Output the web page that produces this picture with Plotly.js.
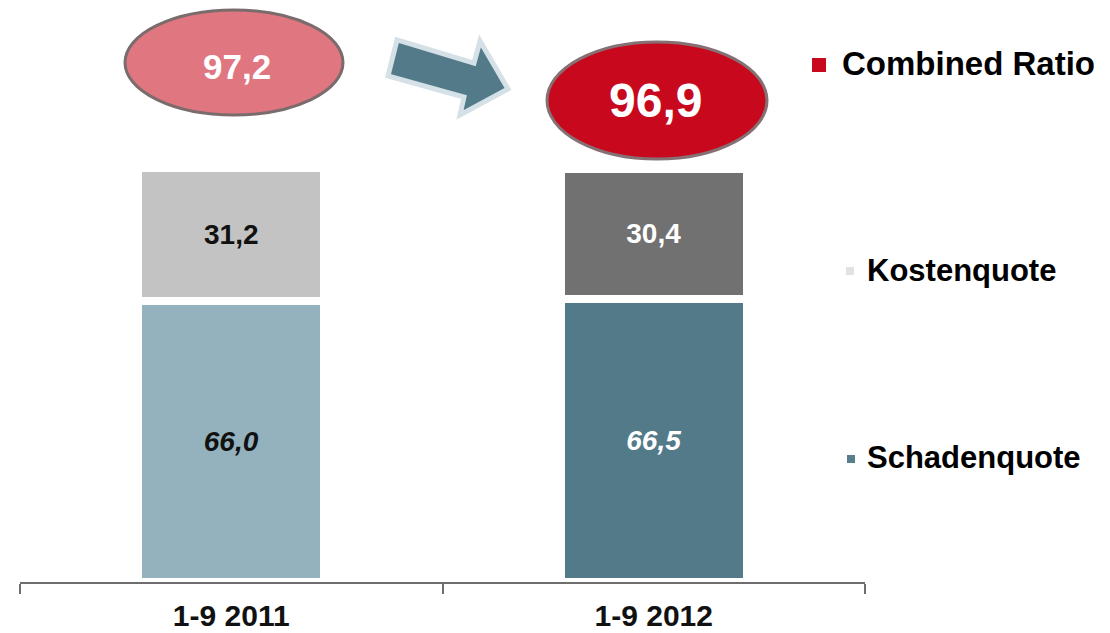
<!DOCTYPE html>
<html>
<head>
<meta charset="utf-8">
<script src="https://cdn.plot.ly/plotly-3.0.1.min.js"></script>
<style>
  html, body { margin: 0; padding: 0; background: #fff; }
  #myDiv { width: 1110px; height: 633px; }
</style>
</head>
<body>
<div id="myDiv"></div>
<script>
var periods = ['1-9 2011', '1-9 2012'];
var schadenquote = [66.0, 66.5];
var kostenquote = [31.2, 30.4];
var combinedRatio = [97.2, 96.9];

var W = 1110, H = 633;
var M = {l: 20, r: 245, t: 10, b: 51};

// pixel -> paper helpers for the decoration shapes
function px(x) { return (x - M.l) / (W - M.l - M.r); }
function py(y) { return (H - M.b - y) / (H - M.t - M.b); }
function fmt(v) { return v.toFixed(1).replace('.', ','); }

var font = 'Liberation Sans, Arial, sans-serif';

var trace1 = {
  x: periods,
  y: schadenquote,
  name: 'Schadenquote',
  type: 'bar',
  marker: {color: ['#93b2bd', '#527a89'], line: {color: '#ffffff', width: 8}},
  texttemplate: '<i><b>%{y:.1f}</b></i>',
  textposition: 'inside',
  insidetextanchor: 'middle',
  textfont: {family: font, size: 28, color: ['#111111', '#ffffff']},
  hoverinfo: 'none'
};

var trace2 = {
  x: periods,
  y: kostenquote,
  name: 'Kostenquote',
  type: 'bar',
  marker: {color: ['#c3c3c3', '#717171'], line: {color: '#ffffff', width: 8}},
  texttemplate: '<b>%{y:.1f}</b>',
  textposition: 'inside',
  insidetextanchor: 'middle',
  textfont: {family: font, size: 28, color: ['#111111', '#ffffff']},
  hoverinfo: 'none'
};

var data = [trace1, trace2];

// ellipses with the combined ratio
var ell = [
  {x0: 125, x1: 343, y0: 10, y1: 115, tx: 237, ty: 66, fill: '#e07680', line: '#7a6b6d', size: 35},
  {x0: 547, x1: 767, y0: 42, y1: 159, tx: 655, ty: 101, fill: '#c8091d', line: '#857173', size: 48}
];

var shapes = [];
var annotations = [];
ell.forEach(function (e, i) {
  shapes.push({
    type: 'circle', xref: 'paper', yref: 'paper',
    x0: px(e.x0), x1: px(e.x1), y0: py(e.y1), y1: py(e.y0),
    fillcolor: e.fill, line: {color: e.line, width: 3}, layer: 'above'
  });
  annotations.push({
    xref: 'paper', yref: 'paper', xanchor: 'center', yanchor: 'middle',
    x: px(e.tx), y: py(e.ty),
    text: '<b>' + fmt(combinedRatio[i]) + '</b>', showarrow: false,
    font: {family: font, size: e.size, color: '#ffffff'}
  });
});

// block arrow
var arrowPts = [[397, 40], [474, 63], [480, 41], [508, 89], [460, 115], [464, 97], [388, 76]];
var path = arrowPts.map(function (p, i) {
  return (i ? 'L' : 'M') + px(p[0]).toFixed(4) + ',' + py(p[1]).toFixed(4);
}).join(' ') + ' Z';
shapes.push({
  type: 'path', xref: 'paper', yref: 'paper', path: path,
  fillcolor: '#527a89', line: {color: '#d5e1e6', width: 5}, layer: 'above'
});

// legend made of annotations
var legendItems = [
  {label: 'Combined Ratio', color: '#c8091d', y: 63, sx: 819, sy: 65, tx: 840, sq: 14, size: 33},
  {label: 'Kostenquote', color: '#e2e2e2', y: 270, sx: 850, sy: 271, tx: 865, sq: 8, size: 31},
  {label: 'Schadenquote', color: '#5a7f8c', y: 457, sx: 851, sy: 459, tx: 865, sq: 8, size: 31}
];
legendItems.forEach(function (it) {
  shapes.push({
    type: 'rect', xref: 'paper', yref: 'paper',
    x0: px(it.sx - it.sq / 2), x1: px(it.sx + it.sq / 2),
    y0: py(it.sy + it.sq / 2), y1: py(it.sy - it.sq / 2),
    fillcolor: it.color, line: {width: 0}, layer: 'above'
  });
  annotations.push({
    xref: 'paper', yref: 'paper', x: px(it.tx), y: py(it.y),
    xanchor: 'left', yanchor: 'middle',
    text: '<b>' + it.label + '</b>', showarrow: false,
    font: {family: font, size: it.size, color: '#000000'}
  });
});

var layout = {
  width: W,
  height: H,
  margin: M,
  paper_bgcolor: '#ffffff',
  plot_bgcolor: '#ffffff',
  showlegend: false,
  barmode: 'stack',
  bargap: 0.56,
  xaxis: {
    type: 'category',
    range: [-0.5, 1.5],
    showline: true,
    linecolor: '#6e6e6e',
    linewidth: 2,
    ticks: 'outside',
    tickson: 'boundaries',
    ticklen: 10,
    tickcolor: '#6e6e6e',
    tickwidth: 2,
    ticklabelstandoff: 6,
    tickfont: {family: font, size: 30, color: '#111111'},
    showgrid: false,
    zeroline: false,
    fixedrange: true
  },
  yaxis: {
    range: [0, 572 / 4.26],
    visible: false,
    showgrid: false,
    zeroline: false,
    fixedrange: true
  },
  separators: ',.',
  shapes: shapes,
  annotations: annotations
};

// bold tick labels
layout.xaxis.tickvals = periods;
layout.xaxis.ticktext = periods.map(function (p) { return '<b>' + p + '</b>'; });

Plotly.newPlot('myDiv', data, layout, {displayModeBar: false, staticPlot: true});
</script>
</body>
</html>
